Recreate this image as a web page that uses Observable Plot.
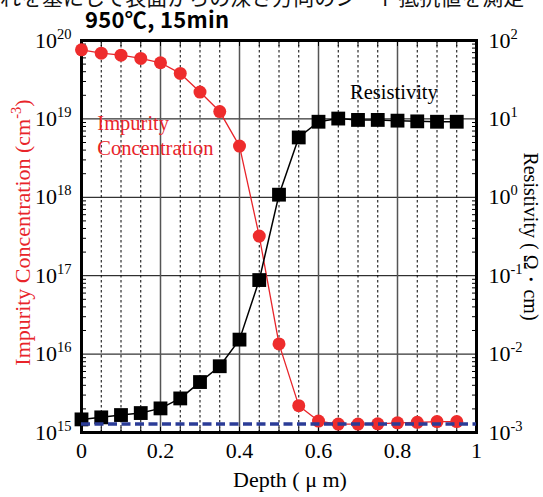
<!DOCTYPE html>
<html><head><meta charset="utf-8">
<script src="https://cdn.jsdelivr.net/npm/d3@7"></script>
<script src="https://cdn.jsdelivr.net/npm/@observablehq/plot@0.6"></script>
<style>
body{margin:0;background:#fff;}
#wrap{position:relative;width:543px;height:497px;overflow:hidden;}
#wrap svg{position:absolute;left:0;top:0;}
#above{position:absolute;left:0;top:-18px;font:21px/28px "Noto Sans CJK JP";white-space:nowrap;color:#111;z-index:2;}
#title{position:absolute;left:85px;top:7px;font:bold 22px/22px "Noto Sans CJK JP";letter-spacing:0.3px;white-space:nowrap;z-index:3;background:transparent;}
</style></head><body>
<div id="wrap"><div id="above">れを基にして表面からの深さ方向のシート抵抗値を測定</div><div id="title">950℃, 15min</div></div>
<script>
// ---- data ----
const depth = [0, 0.05, 0.1, 0.15, 0.2, 0.25, 0.3, 0.35, 0.4, 0.45, 0.5, 0.55, 0.6, 0.65, 0.7, 0.75, 0.8, 0.85, 0.9, 0.95];
const impurity = [7.6e19, 6.9e19, 6.5e19, 5.9e19, 5.2e19, 3.8e19, 2.2e19, 1.24e19, 4.5e18, 3.2e17, 1.35e16, 2.2e15, 1.4e15, 1.28e15, 1.28e15, 1.29e15, 1.33e15, 1.35e15, 1.38e15, 1.38e15];
const resistivity = [1.47e-3, 1.56e-3, 1.67e-3, 1.77e-3, 2.03e-3, 2.72e-3, 4.4e-3, 7.0e-3, 1.53e-2, 8.8e-2, 1.08, 5.8, 9.2, 10.1, 9.7, 9.7, 9.5, 9.3, 9.2, 9.2];
const substrateLevel = [1.28e15];
const concTicks = [1e15, 1e16, 1e17, 1e18, 1e19, 1e20];
const resTicks = [1e-3, 1e-2, 1e-1, 1, 10, 100];
const depthTicks = [0, 0.2, 0.4, 0.6, 0.8, 1];
const depthMinor = [0.05, 0.1, 0.15, 0.25, 0.3, 0.35, 0.45, 0.5, 0.55, 0.65, 0.7, 0.75, 0.85, 0.9, 0.95];
const depthMajorGrid = [0.2, 0.4, 0.6, 0.8];
const concGrid = [1e16, 1e17, 1e18, 1e19];
const scaleFactor = 1e18; // right axis (Ω·cm) decades mapped onto left axis decades
const labelConc = [{x: 0.04, y: 8.8e18, t: "Impurity"}, {x: 0.04, y: 4.2e18, t: "Concentration"}];
const labelRes = [{x: 0.68, y: 2.2e19, t: "Resistivity"}];

const rows = depth.map((d, i) => ({depth: d, conc: impurity[i], res: resistivity[i] * scaleFactor}));
const minorConc = [];
for (let e = 15; e < 20; e++) for (let k = 2; k <= 9; k++) minorConc.push(k * Math.pow(10, e));
const allX = depth.concat([1]);

const chart = Plot.plot({
  width: 543, height: 497,
  marginLeft: 81, marginRight: 67, marginTop: 40, marginBottom: 65,
  style: {fontFamily: "'Liberation Serif', 'Times New Roman', serif", fontSize: "22px", color: "#000", background: "transparent"},
  x: {domain: [0, 1]},
  y: {type: "log", domain: [1e15, 1e20]},
  marks: [
    Plot.ruleY(concGrid, {stroke: "#000", strokeWidth: 1}),
    Plot.ruleX(depthMinor, {stroke: "#000", strokeWidth: 1, strokeDasharray: "2.5,2.5"}),
    Plot.ruleX(depthMajorGrid, {stroke: "#555", strokeWidth: 1.5}),
    Plot.axisY(minorConc, {anchor: "left", tickSize: -5, tickFormat: () => "", label: null}),
    Plot.axisY(minorConc, {anchor: "right", tickSize: -5, tickFormat: () => "", label: null}),
    Plot.axisX(allX, {anchor: "bottom", tickSize: -5, tickFormat: () => "", label: null}),
    Plot.axisX(allX, {anchor: "top", tickSize: -5, tickFormat: () => "", label: null}),
    Plot.axisY(concTicks, {anchor: "left", tickSize: 0, tickPadding: 10, fontSize: 22, label: null,
      tickFormat: d => `10^{${Math.round(Math.log10(d))}}`}),
    Plot.axisY(resTicks.map(v => v * scaleFactor), {anchor: "right", tickSize: 0, tickPadding: 12, fontSize: 22, label: null,
      tickFormat: d => `10^{${Math.round(Math.log10(d / scaleFactor))}}`}),
    Plot.axisX(depthTicks, {anchor: "bottom", tickSize: 0, tickPadding: 10, fontSize: 22, label: null, tickFormat: d => String(d)}),
    Plot.frame({stroke: "#000", strokeWidth: 3}),
    Plot.line(rows, {x: "depth", y: "conc", stroke: "#e8242a", strokeWidth: 1.3}),
    Plot.dot(rows, {x: "depth", y: "conc", r: 6.5, fill: "#ee2c2c"}),
    Plot.line(rows, {x: "depth", y: "res", stroke: "#000", strokeWidth: 1.5}),
    Plot.dot(rows, {x: "depth", y: "res", symbol: "square", r: 7.8, fill: "#000"}),
    Plot.ruleY(substrateLevel, {stroke: "#2b3c97", strokeWidth: 3.5, strokeDasharray: "9,4.5"}),
    Plot.text(labelConc, {x: "x", y: "y", text: "t", textAnchor: "start", fill: "#e8242a", fontSize: 20.5}),
    Plot.text(labelRes, {x: "x", y: "y", text: "t", textAnchor: "start", fill: "#000", fontSize: 20.5}),
    Plot.text(["Impurity Concentration (cm^{-3})"], {frameAnchor: "left", textAnchor: "middle", dx: -59, dy: -4, rotate: -90, fill: "#e8242a", fontSize: 22}),
    Plot.text(["Resistivity ( Ω・cm)"], {frameAnchor: "right", textAnchor: "middle", dx: 54, rotate: 90, fill: "#000", fontSize: 20}),
    Plot.text(["Depth ( μ m)"], {frameAnchor: "bottom", textAnchor: "middle", dx: 11, dy: 54, fill: "#000", fontSize: 22})
  ]
});

// render superscripts written as ^{...}
d3.select(chart).selectAll("text").each(function() {
  const el = this;
  const t = el.textContent;
  const m = t.match(/^(.*)\^\{(.*?)\}(.*)$/);
  if (!m) return;
  el.textContent = "";
  const s = d3.select(el);
  s.append("tspan").text(m[1]);
  s.append("tspan").attr("font-size", 14.5).attr("dy", -9).text(m[2]);
  if (m[3]) s.append("tspan").attr("dy", 9).text(m[3]);
});

document.getElementById("wrap").appendChild(chart);
</script>
</body></html>
